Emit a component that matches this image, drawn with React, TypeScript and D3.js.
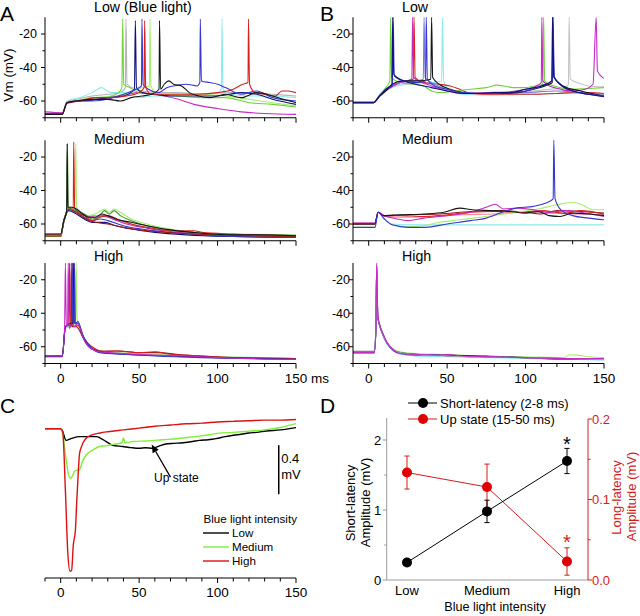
import React from "react";
import * as d3 from "d3";

// ---------- shared ticks ----------
const msTicks = d3.range(-10, 151, 10);
const msMajor = [0, 50, 100, 150];
const vmMajor = [-20, -40, -60];
const vmMinor = [-30, -50, -70];

// ---------- Panel A : Low (Blue light) ----------
const aLowGray = [-10,-68, 1,-68, 4,-60.5, 10,-59, 20,-57, 30,-56, 38,-55, 41.2,-52, 41.6,-11, 42.3,-50, 48,-53, 60,-55, 75,-55, 90,-56, 105,-55, 120,-55, 135,-56, 150,-57];
const aLowCyan = [-10,-68, 1,-68, 4,-60, 12,-58, 20,-55, 26,-52, 32,-55, 40,-55, 50,-58, 60,-57, 75,-57, 90,-56, 100,-55, 102.5,-52, 102.8,-11, 103.5,-53, 108,-56, 120,-57, 135,-57, 150,-58];
const aLowMagenta = [-10,-66.5, 1,-67, 4,-61.5, 12,-60, 22,-59, 32,-58, 42,-56, 50,-55, 58,-56, 66,-57, 75,-59, 85,-62, 100,-64.5, 115,-66.5, 130,-67.5, 150,-68];
const aLowGreen = [-10,-67.5, 1,-67.5, 4,-61, 10,-60, 20,-58, 30,-57.5, 37,-55, 39,-52, 39.5,-11, 40.2,-50, 44,-52, 50,-55, 60,-56, 75,-57, 90,-58, 105,-58, 120,-61, 135,-62, 150,-63.5];
const aLowLime = [-10,-68, 1,-68, 4,-61, 15,-59, 25,-58, 35,-57, 45,-55, 52,-52, 56.6,-51, 56.9,-11, 57.5,-51, 62,-56, 75,-56, 90,-56, 105,-57, 120,-59, 135,-61, 150,-63];
const aLowNavy = [-10,-67.5, 1,-67.5, 4,-61, 10,-60, 20,-59.5, 30,-58, 40,-57, 47,-53, 47.6,-12, 48.3,-52, 52,-55, 60,-56, 70,-57, 85,-57, 100,-57, 115,-55, 125,-56, 135,-59, 150,-62];
const aLowBlue = [-10,-67.5, 1,-67.5, 4,-61, 10,-60, 20,-60, 30,-59, 40,-56, 48,-53, 51.5,-51, 51.8,-11, 52.5,-50, 56,-53, 62,-55, 68,-52, 72,-51, 80,-50, 87,-51, 88.7,-49, 89,-11, 89.7,-48, 95,-49, 100,-50, 105,-52, 115,-56, 125,-54, 135,-58, 150,-60];
const aLowRed = [-10,-67.5, 1,-67.5, 4,-61, 12,-60, 22,-58, 32,-58, 42,-57, 50,-55, 53.2,-52, 53.5,-12, 54.2,-52, 58,-56, 70,-56, 85,-56, 100,-55, 110,-53, 116,-50, 119.4,-49, 119.7,-11, 120.4,-50, 124,-55, 130,-56, 137,-57, 141,-54, 145,-54, 150,-55];
const aLowBlack = [-10,-68, 1,-68, 4,-61, 10,-60, 20,-59, 30,-59, 38,-60, 45,-58, 52,-57, 58,-56, 62.7,-53, 63,-12, 63.7,-53, 66,-50, 69,-48, 72,-50, 77,-51, 82,-55, 88,-57, 95,-58, 105,-56, 115,-58, 125,-55, 135,-57, 142,-59, 150,-61];

// ---------- Panel A : Medium ----------
const aMedGray = [-10,-66, 0,-66, 2,-58, 5,-51, 10,-52, 16,-55, 22,-55, 30,-56, 40,-59, 55,-62, 75,-64, 100,-66, 150,-66.5];
const aMedNavy = [-10,-67.5, 0,-67.5, 2,-59, 5,-52, 10,-54, 15,-57, 20,-59, 28,-59, 35,-61, 45,-63, 60,-65, 80,-66.5, 110,-67.5, 150,-68];
const aMedBlue = [-10,-67, 0,-67, 2,-58, 5,-51, 10,-53, 15,-56, 20,-58, 25,-57, 30,-58, 40,-61, 55,-63.5, 70,-65, 90,-66.5, 110,-67.5, 150,-68];
const aMedMagenta = [-10,-67, 0,-67, 2,-58, 5,-51, 10,-53, 16,-55, 22,-56, 27,-55, 33,-57, 42,-60, 55,-62.5, 75,-65, 100,-66.5, 150,-67];
const aMedDarkRed = [-10,-67.5, 0,-67.5, 2,-58, 5,-51, 10,-53, 16,-57, 22,-59, 30,-60, 40,-62, 55,-64, 75,-65.5, 100,-66.5, 150,-67.5];
const aMedLime = [-10,-67, 0,-67, 2,-58, 5,-50, 9,-50, 9.6,-12, 10.2,-50, 13,-53, 18,-55, 24,-53, 28,-51, 31,-53, 34,-51, 38,-53, 45,-57, 55,-60, 70,-63, 90,-65.5, 110,-66, 150,-66.5];
const aMedRed = [-10,-66.5, 0,-66.5, 2,-58, 5,-51, 8,-51, 8.3,-11, 8.9,-50, 11,-53, 15,-55, 20,-58, 25,-56, 30,-55, 36,-57, 45,-60, 55,-62, 70,-64, 85,-64, 90,-65, 110,-66, 150,-67];
const aMedGreen = [-10,-67, 0,-67, 2,-58, 4,-52, 4.3,-12, 4.8,-50, 7,-51, 10,-52, 15,-54, 20,-57, 24,-56, 28,-52, 31,-54, 34,-52, 38,-55, 45,-58, 55,-61, 70,-63.5, 90,-65.5, 110,-66.5, 150,-67];
const aMedBlack = [-10,-66, 0,-66, 2,-58, 3.8,-52, 4.1,-12, 4.6,-50, 7,-50, 10,-51, 14,-54, 18,-56, 22,-56, 26,-54, 30,-55, 35,-57, 45,-59, 55,-61, 70,-63.5, 90,-65.5, 110,-66.5, 130,-66.5, 150,-67];

// ---------- Panel A : High ----------
const aHighCyan = [-10,-65.5, 1,-65.5, 3,-49, 8,-47, 8.5,-11, 9,-47, 11,-46, 14,-53, 18,-59, 25,-63, 40,-64, 70,-65, 100,-66, 150,-67];
const aHighGreen = [-10,-65.5, 1,-65.5, 3,-48, 7,-47, 9.5,-46, 9.9,-10, 10.5,-44, 12,-47, 15,-55, 20,-60, 28,-63, 45,-64, 70,-65, 100,-66, 150,-67];
const aHighDarkRed = [-10,-65.5, 1,-65.5, 3,-48, 5,-47, 6.4,-47, 6.7,-10, 7.3,-48, 10,-48, 14,-54, 18,-59.5, 25,-62.5, 37,-62.5, 50,-63.5, 60,-63.5, 80,-65, 110,-66.5, 150,-67];
const aHighRed = [-10,-65.5, 1,-65.5, 3,-48, 5.2,-47, 5.6,-10, 6.2,-48, 7.3,-47, 7.6,-10, 8.2,-48, 10,-47, 12,-48, 15,-55, 20,-60, 28,-63, 35,-62.5, 42,-63, 50,-63.5, 60,-63, 70,-64.5, 90,-65.5, 110,-66.5, 150,-67];
const aHighNavy = [-10,-66, 1,-66, 3,-48, 6,-46, 7.8,-46, 8.1,-10, 8.7,-46, 11,-46, 14,-54, 18,-60, 25,-63, 40,-64.5, 70,-65.5, 100,-66.5, 150,-67.5];
const aHighBlue = [-10,-65.5, 1,-65.5, 3,-48, 6,-47, 7,-47, 7.3,-10, 7.9,-46, 8.5,-45, 8.8,-10, 9.4,-46, 11,-45, 14,-53, 18,-59, 25,-63.5, 40,-64.5, 60,-65.5, 90,-66.5, 150,-67.5];
const aHighMagenta = [-10,-65.5, 1,-65.5, 2.5,-48, 3,-10, 3.6,-48, 4.4,-47, 4.8,-10, 5.4,-49, 7,-47, 9,-48, 11,-46, 14,-54, 18,-60, 25,-63, 40,-64, 60,-65, 80,-65.5, 100,-66.5, 150,-67.5];

// ---------- Panel B : Low ----------
const bLowGray = [-10,-61, 3,-61, 8,-56, 15,-52, 25,-50, 35,-49, 45,-52, 55,-54, 70,-55, 90,-55, 105,-54, 115,-53, 125,-52, 127.3,-50, 127.8,-10, 128.5,-47, 133,-49, 140,-51, 150,-51.5];
const bLowCyan = [-10,-61, 3,-61, 7,-57, 12,-53, 20,-50, 30,-49, 40,-49, 46.5,-48, 47,-10, 47.8,-48, 52,-54, 60,-56, 80,-56.5, 100,-56, 120,-55.5, 135,-55, 150,-56];
const bLowRed = [-10,-61, 3,-61, 7,-57, 12,-53, 20,-49, 28.4,-47, 28.9,-10, 29.6,-46, 35,-49, 45,-50, 52,-51, 58,-53, 65,-55.5, 80,-56, 100,-56, 120,-55.5, 130,-55, 140,-55, 150,-55.5];
const bLowGreen = [-10,-61, 3,-61, 7,-56, 11,-52, 13.5,-48, 14,-10, 14.6,-46, 20,-49, 28,-50, 35,-51, 40,-54, 46,-55, 55,-54, 65,-53, 75,-52, 82,-50.5, 86,-51, 92,-52, 100,-52, 106,-51, 111,-50, 111.5,-10, 112.2,-48, 118,-51, 130,-53, 140,-52.5, 150,-52];
const bLowCorn = [-10,-61, 3,-61, 7,-57, 12,-52, 20,-49, 30,-48, 34.8,-47, 35.3,-10, 36,-46, 40,-49, 50,-53, 60,-55, 80,-55.5, 100,-55, 120,-54, 135,-55, 150,-56];
const bLowMagenta = [-10,-61, 3,-61, 7,-57, 12,-53, 20,-49, 27.5,-47, 28,-10, 28.7,-46, 32,-48, 40,-51, 50,-54, 60,-55.5, 75,-55, 90,-54.5, 100,-53, 107,-51, 110,-49, 110.4,-10, 111,-48, 118,-52, 130,-54, 138,-53, 143,-50, 145,-10, 145.8,-42, 148,-45, 150,-46.5];
const bLowBlack = [-10,-61, 3,-61, 7,-57, 11,-54, 15,-50, 22,-48, 32,-48, 39.6,-47, 40.1,-10, 40.8,-46, 45,-50, 52,-53, 65,-55.5, 80,-55.5, 95,-55, 105,-53, 115,-50, 117,-49, 117.4,-10, 118.1,-46, 124,-51, 135,-54, 150,-57];
const bLowBlue = [-10,-60.8, 3,-60.8, 7,-57, 11,-53, 15,-51, 15.6,-10, 16.3,-45, 22,-48, 30,-49, 36.2,-48, 36.7,-10, 37.4,-47, 42,-51, 50,-53, 60,-55, 75,-55.5, 90,-55, 100,-54, 110,-51, 117,-48, 117.5,-10, 118.3,-46, 125,-52, 135,-55, 150,-57];
const bLowNavy = [-10,-60.8, 3,-60.8, 7,-57, 11,-53, 14.8,-50, 15.3,-10, 16,-44, 20,-47, 24,-48.5, 30,-50, 40,-52, 50,-54, 60,-55.5, 70,-55.5, 80,-55, 90,-55, 100,-53, 110,-51, 116.7,-48, 117.2,-10, 118,-45, 122,-50, 130,-54, 140,-56, 150,-57.5];

// ---------- Panel B : Medium ----------
const bMedCyan = [-10,-60, 4,-60, 6,-53, 10,-57, 15,-60, 30,-60.5, 60,-60.5, 100,-60.5, 150,-60.5];
const bMedPink = [-10,-59.5, 4,-59.5, 6,-53, 10,-55.5, 25,-56, 40,-55.5, 60,-54.5, 80,-54, 100,-53, 115,-53.5, 130,-54, 150,-54.5];
const bMedDarkRed = [-10,-60, 4,-60, 6,-53, 10,-55, 25,-54.5, 45,-54, 65,-52.5, 85,-52, 100,-53, 110,-54, 120,-52, 135,-52.5, 150,-53.5];
const bMedRed = [-10,-60, 4,-60, 6,-53, 10,-55, 20,-55, 35,-55.5, 50,-54.5, 65,-53, 80,-52.5, 95,-53, 110,-52, 125,-53.5, 135,-52, 150,-54];
const bMedGreen = [-10,-62, 4,-62, 6,-53, 10,-57, 15,-60.5, 25,-61.5, 35,-61, 45,-59, 58,-57.5, 75,-55.5, 94,-53, 108,-51, 120,-48.5, 130,-47, 137,-49, 143,-51.5, 150,-51.5];
const bMedMagenta = [-10,-59.5, 4,-59.5, 6,-53, 10,-55, 18,-57, 25,-58, 35,-56.5, 50,-55, 65,-53, 75,-50, 80.6,-48.2, 86,-51, 95,-50.5, 105,-51.5, 115,-53, 125,-52, 135,-53, 150,-55.5];
const bMedBlack = [-10,-60, 4,-60, 6,-53, 9,-55, 20,-54.5, 35,-54, 48,-53, 58,-50.5, 66,-51.5, 77,-52, 90,-52.5, 100,-53.5, 108,-52.5, 115,-55, 122,-55.5, 130,-53.5, 140,-54, 150,-55];
const bMedBlue = [-10,-62, 4,-62, 6,-53, 10,-57, 15,-60.5, 25,-62, 36,-62, 50,-60, 65,-58, 75,-56.5, 85,-53, 94,-50.5, 105,-49.5, 113,-47.5, 117.6,-45, 118,-10, 118.8,-45, 123,-52, 130,-55, 140,-56.5, 150,-57.5];

// ---------- Panel B : High ----------
const bHighCyan = [-10,-63, 3.5,-63, 4.6,-50, 5.1,-12, 5.8,-42, 7,-47.5, 9,-53, 12,-58.5, 16,-62.5, 20,-64.5, 30,-65.5, 50,-66, 75,-66.5, 100,-67, 125,-67.5, 150,-68];
const bHighGreen = [-10,-64, 3.5,-64, 4.6,-50, 5.1,-12, 5.8,-42, 7,-47, 9,-52, 12,-58, 16,-61.5, 20,-63, 30,-64, 45,-64.5, 70,-65.5, 100,-66, 125,-66.5, 128,-64.8, 133,-65, 140,-66, 150,-66.5];
const bHighBlack = [-10,-63, 3.5,-63, 4.6,-50, 5.1,-12, 5.8,-42, 7,-47, 9,-52, 12,-58, 16,-62, 20,-63.5, 30,-64.5, 50,-65, 75,-65.5, 100,-66.5, 125,-67, 150,-67];
const bHighBlue = [-10,-63.5, 3.5,-63.5, 4.6,-50, 5.1,-12, 5.8,-42, 7,-47.5, 9,-53, 12,-58.5, 16,-62.5, 20,-64, 30,-65, 40,-64.7, 50,-65.5, 70,-66, 100,-66.5, 125,-67.5, 150,-67.5];
const bHighGray = [-10,-62.5, 3.5,-62.5, 4.6,-50, 5.1,-11, 5.8,-41, 7,-47, 9,-52.5, 12,-58, 16,-62, 20,-63.5, 30,-64.5, 50,-65.5, 75,-66, 100,-66.5, 125,-67, 150,-67.5];
const bHighMagenta = [-10,-63.5, 3.5,-63.5, 4.6,-50, 5.1,-10, 5.8,-40, 7,-47, 9,-52, 12,-58, 16,-62, 20,-64, 30,-64.5, 45,-65, 50,-64.6, 60,-65.5, 80,-66, 100,-66.5, 125,-67, 150,-67];

// ---------- Panel C : averaged responses (mV) ----------
const cLow = [-10,0, 0,0, 1,-0.01, 3.4,-0.09, 6.6,-0.076, 12,-0.06, 18,-0.06, 23,-0.06, 25,-0.07, 29,-0.1, 33,-0.13, 39.5,-0.14, 45,-0.15, 50,-0.155, 54,-0.15, 58.6,-0.155, 63,-0.135, 67,-0.12, 72,-0.115, 78,-0.11, 84,-0.1, 88.5,-0.09, 94,-0.085, 99,-0.076, 105,-0.06, 110,-0.049, 115,-0.04, 120,-0.03, 125,-0.025, 131,-0.014, 140,-0.005, 150,0.014];
const cMedium = [-10,0, 0,0, 1,-0.02, 3,-0.2, 5,-0.37, 6.3,-0.4, 7.5,-0.38, 9,-0.34, 12,-0.33, 14,-0.26, 16.2,-0.21, 20.4,-0.17, 24.7,-0.14, 28,-0.135, 31,-0.13, 35,-0.12, 39,-0.11, 40,-0.07, 41,-0.11, 46,-0.1, 55,-0.095, 65,-0.085, 75,-0.075, 85,-0.06, 95,-0.045, 100,-0.033, 110,-0.025, 120,-0.015, 130,-0.005, 140,0.015, 150,0.046];
const cHigh = [-10,0.005, 0,0.005, 1.3,-0.02, 3,-0.5, 4.5,-1.0, 6,-1.16, 7,-1.15, 8,-0.95, 9.4,-0.82, 10.2,-0.6, 11.3,-0.33, 12,-0.2, 13,-0.15, 16,-0.075, 20,-0.045, 25,-0.03, 30,-0.02, 40,-0.005, 50,0.01, 60,0.025, 70,0.035, 80,0.045, 90,0.05, 100,0.06, 110,0.065, 120,0.07, 130,0.075, 140,0.075, 150,0.08];
const cLegend = ["Low", "Medium", "High"];
const cScaleBar = { t: 139, from: -0.13, size: 0.4 };
const cArrow = { tip: [58, -0.125], tail: [70, -0.39] };

// ---------- Panel D ----------
const dCategories = ["Low", "Medium", "High"];
const dShortMean = [0.25, 0.98, 1.70];
const dShortErr = [0.02, 0.16, 0.18];
const dUpMean = [0.1335, 0.1155, 0.023];
const dUpErr = [0.0205, 0.0285, 0.017];
const dLeftTicks = [0, 1, 2];
const dLeftMinor = [0.5, 1.5];
const dRightTicks = [0, 0.1, 0.2];
const dRightMinor = [0.05, 0.15];

// ---------- styling ----------
const FONT = "'Liberation Sans', Arial, Helvetica, sans-serif";
const COL = {
  black: "#161616", red: "#d91f1f", darkred: "#9a1a1a", green: "#6fd23c", lime: "#a6ee6e",
  blue: "#3838d0", navy: "#12127a", cyan: "#8aecec", magenta: "#c42ac4", gray: "#b5b5b5",
  pink: "#ee8a9a", corn: "#7a7ae0",
};

const toPairs = (a: number[]): [number, number][] => {
  const out: [number, number][] = [];
  for (let i = 0; i < a.length; i += 2) out.push([a[i], a[i + 1]]);
  return out;
};

type TraceDef = { data: number[]; color: string };

const panels = [
  { id: "aLow", x0: 45, x1: 296, row: 0, title: "Low (Blue light)", titleX: 94, labelGap: 8,
    traces: [
      { data: aLowGray, color: COL.gray }, { data: aLowCyan, color: COL.cyan }, { data: aLowMagenta, color: COL.magenta },
      { data: aLowGreen, color: COL.green }, { data: aLowLime, color: COL.lime }, { data: aLowNavy, color: COL.navy },
      { data: aLowBlue, color: COL.blue }, { data: aLowRed, color: COL.red }, { data: aLowBlack, color: COL.black },
    ] },
  { id: "aMed", x0: 45, x1: 296, row: 1, title: "Medium", titleX: 94, labelGap: 8,
    traces: [
      { data: aMedGray, color: COL.gray }, { data: aMedNavy, color: COL.navy }, { data: aMedBlue, color: COL.blue },
      { data: aMedMagenta, color: COL.magenta }, { data: aMedDarkRed, color: COL.darkred }, { data: aMedLime, color: COL.lime },
      { data: aMedRed, color: COL.red }, { data: aMedGreen, color: "#3f9a2a" }, { data: aMedBlack, color: COL.black },
    ] },
  { id: "aHigh", x0: 45, x1: 296, row: 2, title: "High", titleX: 94, labelGap: 8, xLabels: true, ms: true,
    traces: [
      { data: aHighCyan, color: COL.cyan }, { data: aHighGreen, color: COL.lime }, { data: aHighDarkRed, color: COL.darkred },
      { data: aHighRed, color: COL.red }, { data: aHighNavy, color: COL.navy }, { data: aHighBlue, color: COL.blue },
      { data: aHighMagenta, color: COL.magenta },
    ] },
  { id: "bLow", x0: 353, x1: 604, row: 0, title: "Low", titleX: 402, labelGap: 3,
    traces: [
      { data: bLowGray, color: "#c4c4c4" }, { data: bLowCyan, color: COL.cyan }, { data: bLowRed, color: COL.red },
      { data: bLowGreen, color: COL.green }, { data: bLowCorn, color: COL.corn }, { data: bLowMagenta, color: COL.magenta },
      { data: bLowBlack, color: COL.black }, { data: bLowBlue, color: COL.blue }, { data: bLowNavy, color: COL.navy },
    ] },
  { id: "bMed", x0: 353, x1: 604, row: 1, title: "Medium", titleX: 402, labelGap: 3,
    traces: [
      { data: bMedCyan, color: COL.cyan }, { data: bMedPink, color: COL.pink }, { data: bMedDarkRed, color: COL.darkred },
      { data: bMedRed, color: COL.red }, { data: bMedGreen, color: COL.lime }, { data: bMedMagenta, color: COL.magenta },
      { data: bMedBlack, color: COL.black }, { data: bMedBlue, color: COL.blue },
    ] },
  { id: "bHigh", x0: 353, x1: 604, row: 2, title: "High", titleX: 402, labelGap: 3, xLabels: true,
    traces: [
      { data: bHighCyan, color: COL.cyan }, { data: bHighGreen, color: COL.lime }, { data: bHighBlack, color: COL.black },
      { data: bHighBlue, color: COL.blue }, { data: bHighGray, color: COL.gray }, { data: bHighMagenta, color: COL.magenta },
    ] },
];

const rowBottoms = [117.75, 240.75, 363.5];
const rowTitleY = [12, 144, 261];
const ROW_H = 100.5;

function TracePanel(p: any) {
  const yb = rowBottoms[p.row];
  const x = d3.scaleLinear().domain([-10, 150]).range([p.x0, p.x1]);
  const y = d3.scaleLinear().domain([-70, -10]).range([yb, yb - ROW_H]);
  const line = d3.line<[number, number]>().x((d) => x(d[0])).y((d) => y(d[1])).curve(d3.curveMonotoneX);
  const clipId = "clip-" + p.id;
  return (
    <g>
      <defs>
        <clipPath id={clipId}>
          <rect x={p.x0} y={yb - ROW_H - 2} width={p.x1 - p.x0 + 2} height={ROW_H + 2} />
        </clipPath>
      </defs>
      <g clipPath={`url(#${clipId})`}>
        {p.traces.map((t: TraceDef, i: number) => (
          <path key={i} d={line(toPairs(t.data)) || ""} fill="none" stroke={t.color} strokeWidth={1.1} />
        ))}
      </g>
      {/* y axis */}
      <line x1={p.x0} x2={p.x0} y1={yb - ROW_H} y2={yb} stroke="#000" strokeWidth={1} />
      {vmMajor.map((v) => (
        <g key={"ym" + v}>
          <line x1={p.x0 - 4} x2={p.x0} y1={y(v)} y2={y(v)} stroke="#000" />
          <text x={p.x0 - p.labelGap} y={y(v) + 4.3} textAnchor="end" fontSize={12.5} fontFamily={FONT}>{v}</text>
        </g>
      ))}
      {vmMinor.map((v) => (
        <line key={"yn" + v} x1={p.x0 - 2.5} x2={p.x0} y1={y(v)} y2={y(v)} stroke="#000" />
      ))}
      {/* x axis */}
      <line x1={p.x0} x2={p.x1} y1={yb} y2={yb} stroke="#000" strokeWidth={1} />
      {msTicks.map((t) => (
        <line key={"xt" + t} x1={x(t)} x2={x(t)} y1={yb} y2={yb + (msMajor.includes(t) ? 5 : 3.5)} stroke="#000" />
      ))}
      {p.xLabels && msMajor.map((t) => (
        <text key={"xl" + t} x={x(t)} y={yb + 19} textAnchor="middle" fontSize={13.5} fontFamily={FONT}>{t}</text>
      ))}
      {p.ms && <text x={x(150) + 15} y={yb + 19} fontSize={13.5} fontFamily={FONT}>ms</text>}
      <text x={p.titleX} y={rowTitleY[p.row]} fontSize={14.2} fontFamily={FONT}>{p.title}</text>
    </g>
  );
}

function PanelC() {
  const x = d3.scaleLinear().domain([-10, 150]).range([45, 296]);
  const y = d3.scaleLinear().domain([0, -1]).range([429.3, 551.8]);
  const line = d3.line<[number, number]>().x((d) => x(d[0])).y((d) => y(d[1])).curve(d3.curveMonotoneX);
  const axisY = 578;
  const series = [
    { data: cLow, color: "#000000" },
    { data: cMedium, color: "#80ee3a" },
    { data: cHigh, color: "#dd1111" },
  ];
  const barX = x(cScaleBar.t);
  const tip = [x(cArrow.tip[0]), y(cArrow.tip[1])];
  const tail = [x(cArrow.tail[0]), y(cArrow.tail[1])];
  const ang = Math.atan2(tip[1] - tail[1], tip[0] - tail[0]);
  const ah = 8, aw = 3.5;
  const bx = tip[0] - ah * Math.cos(ang), by = tip[1] - ah * Math.sin(ang);
  const head = `M${tip[0]},${tip[1]} L${bx + aw * Math.sin(ang)},${by - aw * Math.cos(ang)} L${bx - aw * Math.sin(ang)},${by + aw * Math.cos(ang)} Z`;
  return (
    <g>
      {series.map((s, i) => (
        <path key={i} d={line(toPairs(s.data)) || ""} fill="none" stroke={s.color} strokeWidth={1.4} />
      ))}
      <line x1={45} x2={296} y1={axisY} y2={axisY} stroke="#000" />
      {msTicks.map((t) => (
        <line key={t} x1={x(t)} x2={x(t)} y1={axisY} y2={axisY + (msMajor.includes(t) ? 5 : 3.5)} stroke="#000" />
      ))}
      {msMajor.map((t) => (
        <text key={"l" + t} x={x(t)} y={axisY + 19} textAnchor="middle" fontSize={13.5} fontFamily={FONT}>{t}</text>
      ))}
      {/* scale bar */}
      <line x1={barX} x2={barX} y1={y(cScaleBar.from)} y2={y(cScaleBar.from - cScaleBar.size)} stroke="#000" strokeWidth={1.5} />
      <text x={barX + 2.5} y={463} fontSize={13} fontFamily={FONT}>0.4</text>
      <text x={barX + 2.5} y={478.5} fontSize={13} fontFamily={FONT}>mV</text>
      {/* arrow */}
      <line x1={tail[0]} y1={tail[1]} x2={bx} y2={by} stroke="#000" strokeWidth={1.3} />
      <path d={head} fill="#000" />
      <text x={154} y={482} fontSize={12} fontFamily={FONT}>Up state</text>
      {/* legend */}
      <text x={203.5} y={523} fontSize={11.6} fontFamily={FONT}>Blue light intensity</text>
      {cLegend.map((name, i) => (
        <g key={name}>
          <line x1={203} x2={229} y1={533 + i * 14} y2={533 + i * 14} stroke={series[i].color} strokeWidth={1.4} />
          <text x={232} y={537.2 + i * 14} fontSize={11.6} fontFamily={FONT}>{name}</text>
        </g>
      ))}
    </g>
  );
}

function PanelD() {
  const x = d3.scalePoint<string>().domain(dCategories).range([407, 567]);
  const yL = d3.scaleLinear().domain([0, 2]).range([580, 440]);
  const yR = d3.scaleLinear().domain([0, 0.2]).range([580, 419]);
  const axL = 386.7, axR = 588, axB = 580;
  const red = "#d41c1c";
  const grayAx = "#9a9a9a";
  const shortLine = d3.line<number>().x((_, i) => x(dCategories[i])!).y((d) => yL(d));
  const upLine = d3.line<number>().x((_, i) => x(dCategories[i])!).y((d) => yR(d));
  const cap = 2.6;
  return (
    <g fontFamily={FONT}>
      {/* axes */}
      <line x1={axL} x2={axL} y1={axB} y2={418} stroke={grayAx} />
      <line x1={axL} x2={axR} y1={axB} y2={axB} stroke={grayAx} />
      {dLeftTicks.map((v) => (
        <g key={v}>
          <line x1={axL - 4} x2={axL} y1={yL(v)} y2={yL(v)} stroke={grayAx} />
          <text x={axL - 5.5} y={yL(v) + 4.5} textAnchor="end" fontSize={13}>{v}</text>
        </g>
      ))}
      {dLeftMinor.map((v) => (
        <line key={v} x1={axL - 2.5} x2={axL} y1={yL(v)} y2={yL(v)} stroke={grayAx} />
      ))}
      <line x1={axR} x2={axR} y1={axB} y2={yR(0.2)} stroke={red} />
      {dRightTicks.map((v) => (
        <g key={v}>
          <line x1={axR} x2={axR + 4} y1={yR(v)} y2={yR(v)} stroke={red} />
          <text x={axR + 4} y={yR(v) + 4.5} fontSize={13} fill={red}>{v.toFixed(1)}</text>
        </g>
      ))}
      {dRightMinor.map((v) => (
        <line key={v} x1={axR} x2={axR + 2.5} y1={yR(v)} y2={yR(v)} stroke={red} />
      ))}
      {dCategories.map((c) => (
        <text key={c} x={x(c)} y={595} textAnchor="middle" fontSize={13}>{c}</text>
      ))}
      <text x={495} y={611} textAnchor="middle" fontSize={12.6}>Blue light intensity</text>
      <text transform="translate(355,503) rotate(-90)" textAnchor="middle" fontSize={13}>Short-latency</text>
      <text transform="translate(369.5,502.5) rotate(-90)" textAnchor="middle" fontSize={13}>Amplitude (mV)</text>
      <text transform="translate(621,497.5) rotate(-90)" textAnchor="middle" fontSize={13} fill={red}>Long-latency</text>
      <text transform="translate(636,496.5) rotate(-90)" textAnchor="middle" fontSize={13} fill={red}>Amplitude (mV)</text>
      {/* up state series */}
      <path d={upLine(dUpMean) || ""} fill="none" stroke={red} strokeWidth={1} />
      {dUpMean.map((m, i) => {
        const cx = x(dCategories[i])!;
        return (
          <g key={"u" + i}>
            <line x1={cx} x2={cx} y1={yR(m - dUpErr[i])} y2={yR(m + dUpErr[i])} stroke={red} />
            <line x1={cx - cap} x2={cx + cap} y1={yR(m + dUpErr[i])} y2={yR(m + dUpErr[i])} stroke={red} />
            <line x1={cx - cap} x2={cx + cap} y1={yR(m - dUpErr[i])} y2={yR(m - dUpErr[i])} stroke={red} />
            <circle cx={cx} cy={yR(m)} r={5} fill="#e00000" />
          </g>
        );
      })}
      {/* short latency series */}
      <path d={shortLine(dShortMean) || ""} fill="none" stroke="#000" strokeWidth={1} />
      {dShortMean.map((m, i) => {
        const cx = x(dCategories[i])!;
        return (
          <g key={"s" + i}>
            <line x1={cx} x2={cx} y1={yL(m - dShortErr[i])} y2={yL(m + dShortErr[i])} stroke="#000" />
            <line x1={cx - cap} x2={cx + cap} y1={yL(m + dShortErr[i])} y2={yL(m + dShortErr[i])} stroke="#000" />
            <line x1={cx - cap} x2={cx + cap} y1={yL(m - dShortErr[i])} y2={yL(m - dShortErr[i])} stroke="#000" />
            <circle cx={cx} cy={yL(m)} r={5} fill="#000" />
          </g>
        );
      })}
      <text x={x("High")} y={451} textAnchor="middle" fontSize={20}>*</text>
      <text x={x("High")} y={549} textAnchor="middle" fontSize={20} fill={red}>*</text>
      {/* legend */}
      <line x1={408} x2={437} y1={403} y2={403} stroke="#000" />
      <circle cx={423} cy={403} r={5} fill="#000" />
      <text x={440} y={407.5} fontSize={13}>Short-latency (2-8 ms)</text>
      <line x1={408} x2={437} y1={419} y2={419} stroke={red} />
      <circle cx={423} cy={419} r={5} fill="#e00000" />
      <text x={440} y={423.5} fontSize={13}>Up state (15-50 ms)</text>
    </g>
  );
}

export default function App() {
  return (
    <svg width={640} height={616} viewBox="0 0 640 616"
      style={{ position: "absolute", left: 0, top: 0, background: "#fff" }}>
      <rect x={0} y={0} width={640} height={616} fill="#fff" />
      {panels.map((p) => <TracePanel key={p.id} {...p} />)}
      <PanelC />
      <PanelD />
      <text x={0} y={21} fontSize={21} fontFamily={FONT}>A</text>
      <text x={320} y={21} fontSize={21} fontFamily={FONT}>B</text>
      <text x={0} y={413} fontSize={21} fontFamily={FONT}>C</text>
      <text x={320} y={413} fontSize={21} fontFamily={FONT}>D</text>
      <text transform="translate(13,75) rotate(-90)" textAnchor="middle" fontSize={13.5} fontFamily={FONT}>Vm (mV)</text>
    </svg>
  );
}
